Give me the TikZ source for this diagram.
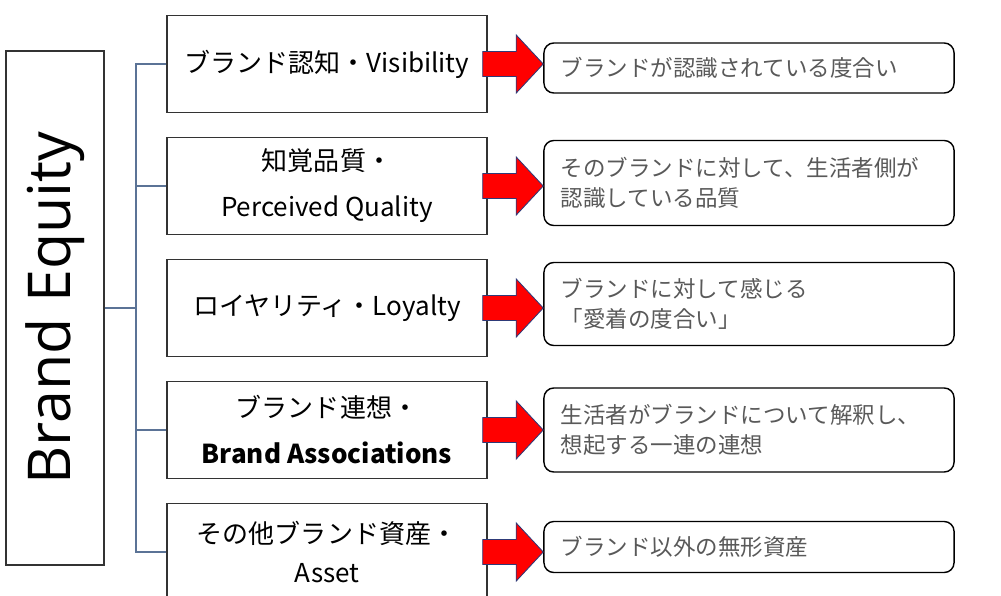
\documentclass[tikz,border=0pt]{standalone}
\usepackage{fontspec}
\usepackage{graphicx}
\setmainfont{Noto Sans CJK JP}
\newfontfamily\eqfont{Open Sans}
\usetikzlibrary{calc}

\definecolor{treeblue}{HTML}{5B7396}
\definecolor{boxgray}{HTML}{333333}
\definecolor{descgray}{HTML}{595959}
\definecolor{arrowred}{HTML}{FF0000}
\definecolor{arrowline}{HTML}{2E3A78}

\tikzset{
  kbox/.style={draw=boxgray, line width=0.9pt, minimum width=8cm, minimum height=2.425cm,
    align=center, inner sep=0pt, font=\fontsize{18.5}{32.7}\selectfont},
  dbox/.style={draw=black, line width=1pt, rounded corners=7pt, text width=9.4cm,
    inner xsep=0.425cm, inner ysep=0pt, align=left, text=descgray,
    font=\fontsize{16}{21.3}\selectfont},
  tree/.style={draw=treeblue, line width=0.9pt},
  fatarrow/.style={fill=arrowred, draw=arrowline, line width=0.6pt, line join=miter}
}

\newcommand{\fatarrow}[2]{%
  \path[fatarrow] ($(#1.east)+(-5,-12.5)$) -- ($(#2.west |- #1.east)+(-27,-12.5)$)
    -- ($(#2.west |- #1.east)+(-27,-29)$) -- (#2.west |- #1.east)
    -- ($(#2.west |- #1.east)+(-27,29)$) -- ($(#2.west |- #1.east)+(-27,12.5)$)
    -- ($(#1.east)+(-5,12.5)$) -- cycle;}

\begin{document}
\begin{tikzpicture}[x=0.025cm, y=-0.025cm]
\path[use as bounding box, clip] (0,0) rectangle (1001,595);
\fill[white] (0,0) rectangle (1001,595);

\node[draw=boxgray, line width=0.9pt, minimum width=2.45cm, minimum height=12.85cm] (equity) at (55,308)
  {\rotatebox{90}{\eqfont\fontsize{42}{42}\selectfont Brand Equity}};

\node[kbox] (vis) at (327,64) {ブランド認知・Visibility};
\node[kbox] (qual) at (327,186) {知覚品質・\\Perceived Quality};
\node[kbox] (loyal) at (327,308) {ロイヤリティ・Loyalty};
\node[kbox] (assoc) at (327,430) {ブランド連想・\\\textbf{Brand Associations}};
\node[kbox, font=\fontsize{18.5}{27.7}\selectfont] (asset) at (327,552) {その他ブランド資産・\\Asset};

\node[dbox, minimum height=1.25cm] (dvis) at (749,68) {ブランドが認識されている度合い};
\node[dbox, minimum height=2.125cm] (dqual) at (749,183) {そのブランドに対して、生活者側が\\認識している品質};
\node[dbox, minimum height=2.075cm] (dloyal) at (749,304) {ブランドに対して感じる\\「愛着の度合い」};
\node[dbox, minimum height=2.1cm] (dassoc) at (749,430) {生活者がブランドについて解釈し、\\想起する一連の連想};
\node[dbox, minimum height=1.275cm] (dasset) at (749,547) {ブランド以外の無形資産};

\coordinate (trunk) at (136,308);
\path[tree] (equity.east) -- (trunk);
\path[tree] (vis.west) -| (trunk);
\path[tree] (asset.west) -| (trunk);
\path[tree] (qual.west) -- (qual.west -| trunk);
\path[tree] (assoc.west) -- (assoc.west -| trunk);

\fatarrow{vis}{dvis}
\fatarrow{qual}{dqual}
\fatarrow{loyal}{dloyal}
\fatarrow{assoc}{dassoc}
\fatarrow{asset}{dasset}
\end{tikzpicture}
\end{document}
